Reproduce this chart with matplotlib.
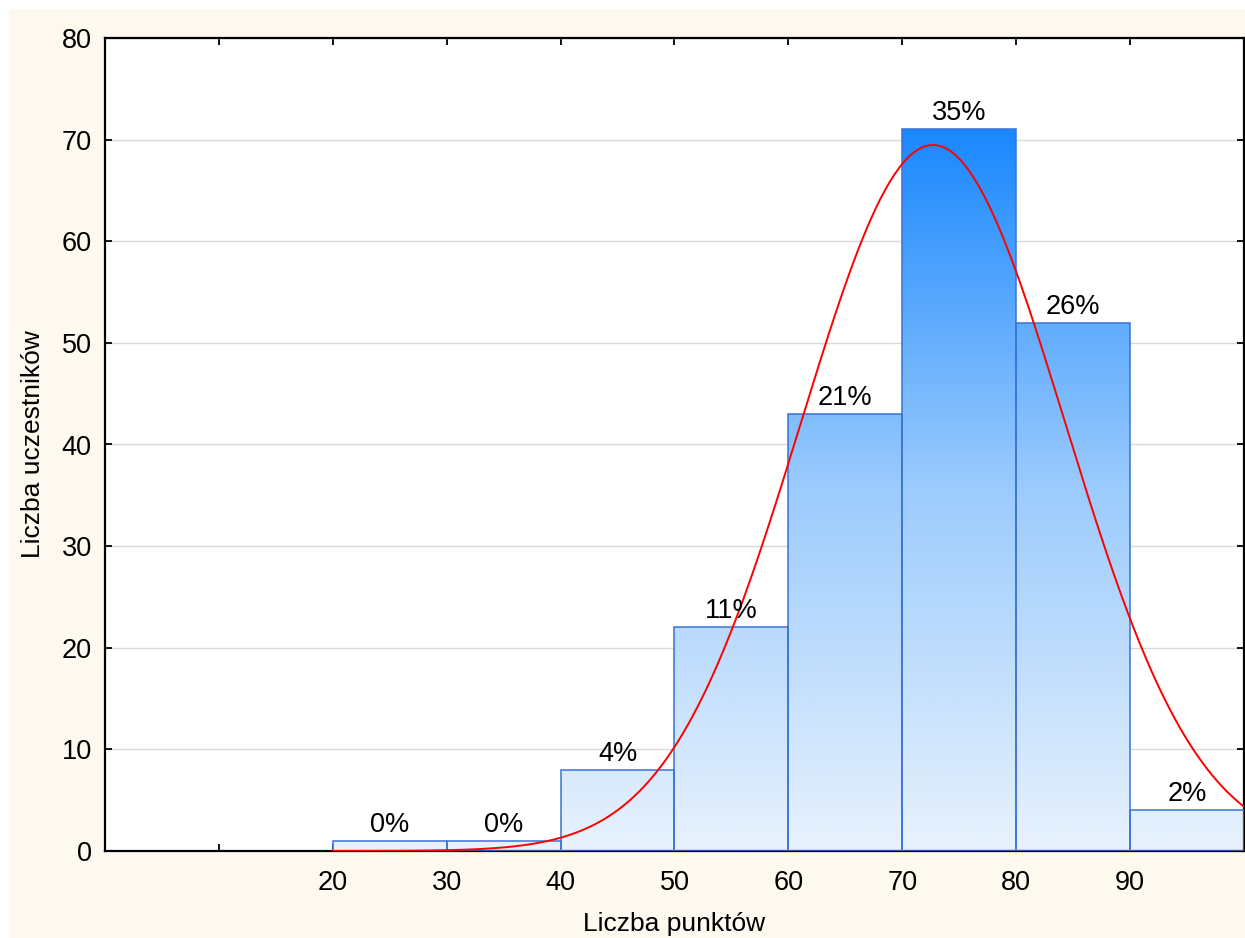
import numpy as np
import matplotlib.pyplot as plt
from matplotlib.colors import LinearSegmentedColormap
from matplotlib.patches import Rectangle

plt.rcParams['font.family'] = ['Liberation Sans', 'DejaVu Sans']

# histogram bins (left edges) and counts
bin_left = [20, 30, 40, 50, 60, 70, 80, 90]
counts = [1, 1, 8, 22, 43, 71, 52, 4]
pct_labels = ["0%", "0%", "4%", "11%", "21%", "35%", "26%", "2%"]
bin_width = 10

# fitted normal curve parameters
fit_mean = 72.7
fit_sd = 11.6

x_ticks = [10, 20, 30, 40, 50, 60, 70, 80, 90]
x_ticklabels = ["", "20", "30", "40", "50", "60", "70", "80", "90"]
y_ticks = [0, 10, 20, 30, 40, 50, 60, 70, 80]

fig = plt.figure(figsize=(12.45, 9.38), dpi=100)
fig.patch.set_facecolor("white")
fig.patches.append(Rectangle((9 / 1245, 0), 1, 1 - 9 / 938, transform=fig.transFigure,
                             facecolor="#fef9ef", edgecolor="none", zorder=-10))

ax = fig.add_axes([105 / 1245, 1 - 851 / 938, 1139 / 1245, (851 - 38) / 938])
ax.set_facecolor("white")

cmap = LinearSegmentedColormap.from_list("bl", ["#e8f2fd", "#9ccbfd", "#1a88ff"])
top = max(counts)
grad = np.linspace(0, 1, 256).reshape(-1, 1)

bars = ax.bar(bin_left, counts, width=bin_width, align="edge",
              facecolor="none", edgecolor="#3873d6", linewidth=1.1, zorder=3)
for b in bars:
    im = ax.imshow(grad, extent=[0, 100, 0, top], origin="lower", aspect="auto",
                   cmap=cmap, zorder=2, interpolation="bilinear")
    im.set_clip_path(b)

for b, lab in zip(bars, pct_labels):
    ax.text(b.get_x() + b.get_width() / 2, b.get_height() + 0.3, lab,
            ha="center", va="bottom", fontsize=19.5, zorder=5)

# fitted normal curve scaled to counts
xs = np.linspace(20, 100, 400)
ys = sum(counts) * bin_width / (fit_sd * np.sqrt(2 * np.pi)) * \
    np.exp(-(xs - fit_mean) ** 2 / (2 * fit_sd ** 2))
ax.plot(xs, ys, color="#ff0000", linewidth=1.4, zorder=4)

ax.set_xlim(0, 100)
ax.set_ylim(0, 80)
ax.set_xticks(x_ticks)
ax.set_xticklabels(x_ticklabels)
ax.set_yticks(y_ticks)
ax.yaxis.grid(True, color="#d9d9d9", linewidth=1)
ax.set_axisbelow(True)
ax.tick_params(direction="in", length=5, width=1.3, top=True, right=True,
               labelsize=19.5, colors="black")
ax.tick_params(axis="x", pad=13.5)
ax.tick_params(axis="y", pad=9.5)
for s in ax.spines.values():
    s.set_linewidth(1.6)
    s.set_color("black")

ax.set_xlabel("Liczba punktów", fontsize=19, labelpad=12)
ax.set_ylabel("Liczba uczestników", fontsize=19, labelpad=12)

fig.savefig("out.png", dpi=100, facecolor=fig.get_facecolor())
